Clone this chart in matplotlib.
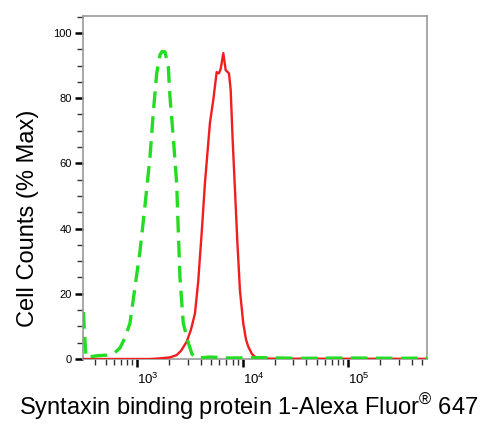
import numpy as np
import matplotlib.pyplot as plt
from matplotlib.ticker import LogLocator, MultipleLocator, NullFormatter

plt.rcParams['font.family'] = ['Liberation Sans', 'DejaVu Sans']
plt.rcParams['mathtext.fontset'] = 'custom'
plt.rcParams['mathtext.rm'] = 'Liberation Sans'

# isotype control (green dashed)
ctrl_x = [309, 316, 327, 415, 516, 615, 686, 764, 853, 951, 1061, 1183, 1320, 1418,
          1528, 1641, 1714, 1831, 1968, 2042, 2194, 2362, 2446, 2539, 2729, 3044,
          3300, 3653, 4880, 7570, 14550, 34800, 104000, 309000, 557000]
ctrl_y = [14.4, 8, 0.5, 1, 1.2, 2, 3.4, 6.5, 11, 22, 33, 47, 62, 75.5,
          87.6, 93.2, 94.3, 94.2, 89.6, 80.4, 68, 54, 39.6, 25, 11, 5,
          1.5, 0.3, 0.6, 0.3, 0.4, 0.2, 0.3, 0.2, 0.3]

# Syntaxin binding protein 1 stained (red)
stain_x = [309, 1320, 1641, 2042, 2362, 2595, 2940, 3228, 3523, 3787, 3930, 4077,
           4381, 4645, 4883, 5250, 5657, 5944, 6175, 6537, 6886, 7400, 7680, 8020,
           8430, 8865, 9400, 10100, 10720, 11270, 12220, 13540, 18100, 557000]
stain_y = [0, 0, 0.2, 0.5, 1.2, 2.5, 5.3, 9, 14, 24, 31.5, 38.6,
           54, 64, 72.4, 79.4, 88, 87.6, 89, 93.8, 88.6, 87.6, 82.5, 67,
           52, 36.5, 21, 11, 6, 3.8, 1.5, 0.3, 0.1, 0.05]

fig = plt.figure(figsize=(4.96, 4.32), dpi=100)
ax = fig.add_axes([83/496, 1-359/432, (427-83)/496, (359-16)/432])

ax.plot(stain_x, stain_y, color='#f01e1e', lw=1.7, zorder=3)
ax.plot(ctrl_x, ctrl_y, color='#22dd22', lw=2.4, ls=(0, (5, 2.5)), zorder=4)

ax.set_xscale('log')
ax.set_xlim(306, 557000)
ax.set_ylim(0, 105.2)

ax.xaxis.set_major_locator(LogLocator(base=10, numticks=10))
ax.xaxis.set_minor_locator(LogLocator(base=10, subs=np.arange(2, 10), numticks=20))
ax.xaxis.set_minor_formatter(NullFormatter())
ax.set_xticks([1e3, 1e4, 1e5])
ax.set_xticklabels(['$10^{3}$', '$10^{4}$', '$10^{5}$'], fontsize=9.5)
for lab in ax.get_xticklabels():
    lab.set_horizontalalignment('left')

ax.yaxis.set_major_locator(MultipleLocator(20))
ax.yaxis.set_minor_locator(MultipleLocator(5))
ax.tick_params(axis='y', labelsize=8, pad=2)

ax.tick_params(which='major', direction='out', length=6, width=1.8, color='black')
ax.tick_params(which='minor', direction='out', length=4, width=1, color='#333333')

for s in ax.spines.values():
    s.set_color('#999999')
    s.set_linewidth(1.2)

ax.set_xlabel('Syntaxin binding protein 1-Alexa Fluor$^{®}$ 647', fontsize=17, labelpad=3, x=0.48)
ax.set_ylabel('Cell Counts (% Max)', fontsize=17)
ax.yaxis.set_label_coords(-0.127, 0.41)

fig.savefig('out.png', dpi=100)
